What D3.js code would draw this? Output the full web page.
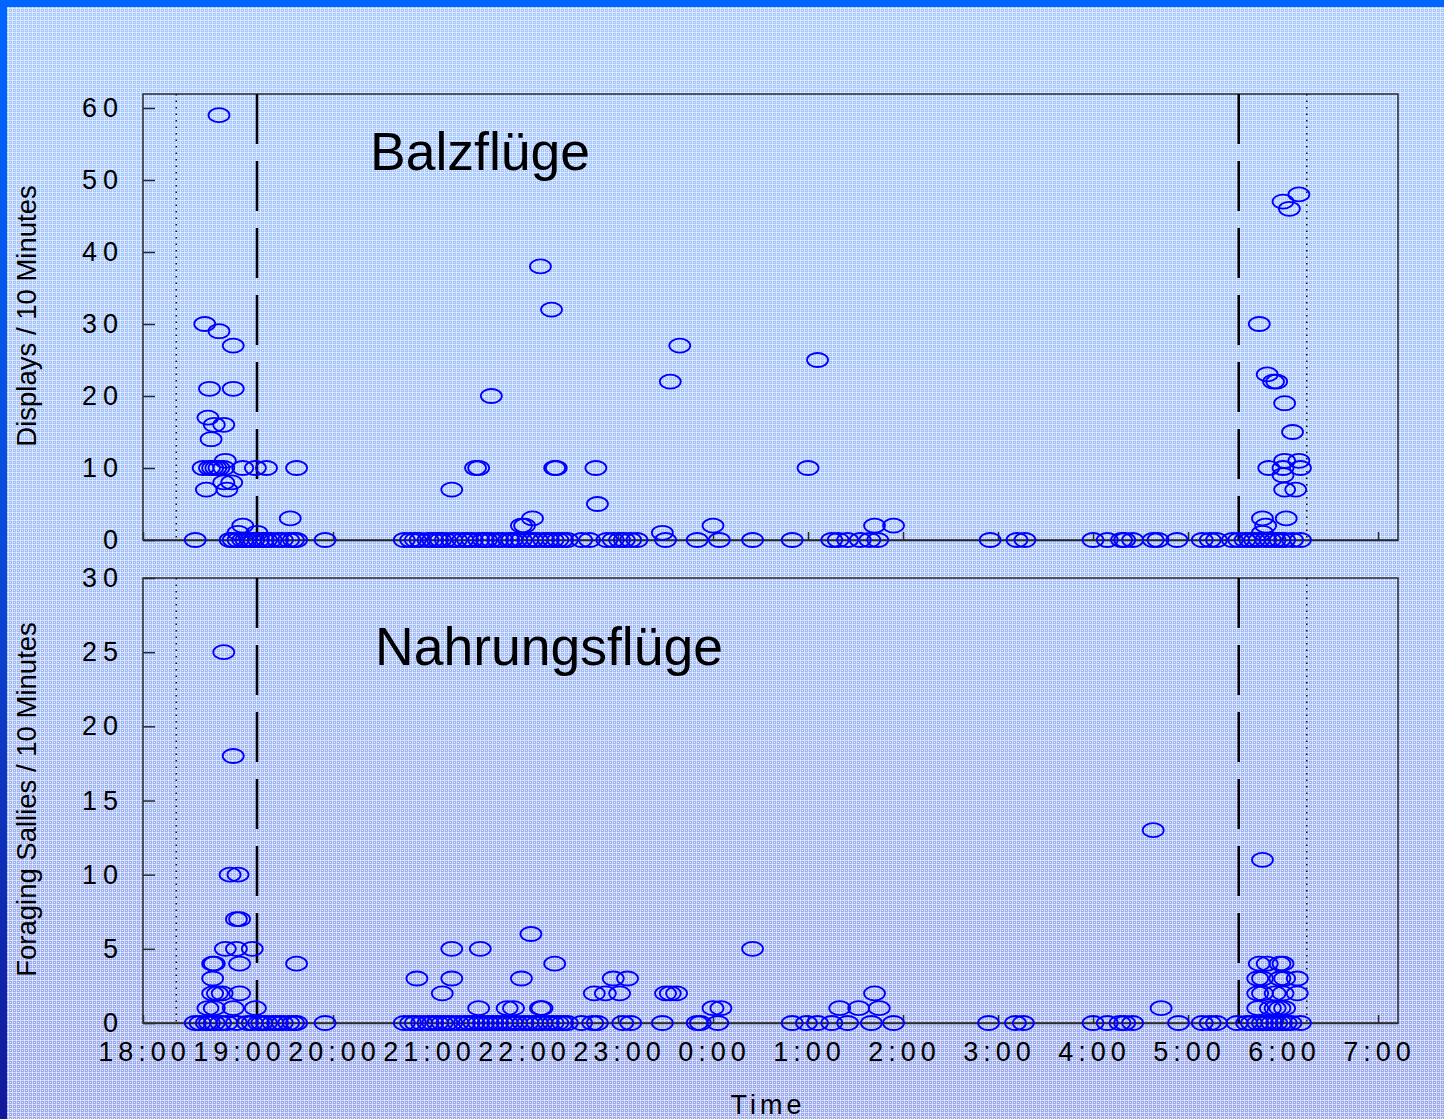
<!DOCTYPE html>
<html>
<head>
<meta charset="utf-8">
<script src="https://cdn.jsdelivr.net/npm/d3@7/dist/d3.min.js"></script>
<style>
  body { margin: 0; background: #c0d3f3; }
  svg { display: block; }
  text { font-family: "Liberation Sans", Arial, sans-serif; fill: #000; }
</style>
</head>
<body>
<svg id="chart"></svg>
<script>
// time = minutes after 18:00, value = count per 10 minutes
var tickLabels = ["18:00", "19:00", "20:00", "21:00", "22:00", "23:00", "0:00",
	"1:00", "2:00", "3:00", "4:00", "5:00", "6:00", "7:00"];

// Balzflüge (displays), non-zero counts [minute, value]
var displays = [
	[48, 59], [39, 30], [48, 29], [57, 27], [42, 21], [57, 21], [41, 17], [45, 16], [51, 16],
	[43, 14], [52, 11], [38, 10], [42, 10], [44, 10], [46, 10], [48, 10], [51, 10], [63, 10],
	[71, 10], [78, 10], [97, 10], [51, 8], [56, 8], [40, 7], [53, 7], [93, 3], [63, 2], [60, 1],
	[72, 1],
	[195, 7], [210, 10], [212, 10], [220, 20], [251, 38], [258, 32], [260, 10], [261, 10],
	[286, 10], [287, 5], [246, 3], [241, 2], [239, 2], [328, 1], [333, 22], [339, 27], [360, 2],
	[420, 10], [426, 25], [462, 2], [474, 2],
	[730, 48], [720, 47], [724, 46], [705, 30], [710, 23], [714, 22], [716, 22], [721, 19],
	[726, 15], [711, 10], [721, 11], [730, 11], [720, 10], [731, 10], [720, 9], [721, 7],
	[728, 7], [707, 3], [722, 3], [707, 1], [709, 2]
];
// minutes where no display was seen
var displayZeros = [33, 55, 57, 60, 63, 65, 68, 70, 73, 76, 78, 81, 85, 88, 92, 95, 97, 115,
	165, 169, 172, 175, 180, 183, 186, 188, 191, 195, 198, 202, 205, 208, 212, 215, 217, 220,
	224, 227, 231, 233, 236, 239, 243, 246, 249, 253, 256, 259, 262, 265, 268, 277, 282, 293,
	297, 301, 304, 308, 312, 330, 350, 364, 385, 410, 435, 439, 445, 453, 459, 464, 535, 552,
	557, 600, 609, 618, 620, 625, 638, 641, 653, 669, 674, 678, 688, 692, 696, 699, 702, 705,
	709, 712, 715, 718, 721, 726, 731];

// Nahrungsflüge (foraging sallies), non-zero counts [minute, value]
var sallies = [
	[51, 25], [57, 18], [55, 10], [60, 10], [59, 7], [61, 7], [52, 5], [59, 5], [69, 5],
	[44, 4], [45, 4], [61, 4], [97, 4], [44, 3], [44, 2], [47, 2], [50, 2], [61, 2], [41, 1],
	[45, 1], [57, 1], [71, 1],
	[173, 3], [195, 5], [213, 5], [195, 3], [189, 2], [212, 1], [230, 1], [234, 1], [245, 6],
	[239, 3], [251, 1], [252, 1], [260, 4], [285, 2], [292, 2], [301, 2], [297, 3], [306, 3],
	[330, 2], [333, 2], [337, 2], [360, 1], [365, 1], [385, 5], [440, 1], [452, 1], [465, 1],
	[462, 2], [638, 13], [643, 1],
	[707, 11], [705, 4], [710, 4], [718, 4], [720, 4], [704, 3], [707, 3], [718, 3], [721, 3],
	[729, 3], [704, 2], [707, 2], [715, 2], [720, 2], [729, 2], [704, 1], [712, 1], [715, 1],
	[718, 1], [721, 1]
];
var sallyZeros = [33, 36, 40, 42, 45, 49, 53, 59, 66, 69, 73, 75, 78, 82, 85, 88, 92, 95, 97,
	115, 165, 169, 172, 176, 180, 183, 186, 189, 192, 195, 199, 203, 206, 209, 212, 215, 218,
	221, 224, 227, 230, 233, 236, 240, 243, 246, 249, 252, 256, 259, 262, 265, 268, 277, 284,
	287, 303, 308, 328, 350, 352, 363, 410, 419, 426, 435, 445, 460, 474, 534, 551, 556, 600,
	609, 617, 620, 625, 654, 669, 674, 678, 691, 697, 700, 704, 707, 710, 713, 716, 719, 722,
	725, 731];

// sunset / sunrise (dotted) and end / start of twilight (dashed), minutes after 18:00
var sunLines = [21, 735];
var twilightLines = [72, 692];

var w = 1444;
var h = 1119;
var left = 143, right = 1398;

var svg = d3.select("#chart").attr("width", w).attr("height", h);
var defs = svg.append("defs");

var bg = defs.append("linearGradient").attr("id", "bg")
	.attr("x1", 0).attr("y1", 0).attr("x2", 0).attr("y2", 1);
bg.append("stop").attr("offset", "0%").attr("stop-color", "#a6c8ff");
bg.append("stop").attr("offset", "45%").attr("stop-color", "#a2c0fb");
bg.append("stop").attr("offset", "100%").attr("stop-color", "#9aa8ee");

var edge = defs.append("linearGradient").attr("id", "edge")
	.attr("x1", 0).attr("y1", 0).attr("x2", 0).attr("y2", 1);
edge.append("stop").attr("offset", "0%").attr("stop-color", "#0066ff");
edge.append("stop").attr("offset", "50%").attr("stop-color", "#0a48d8");
edge.append("stop").attr("offset", "100%").attr("stop-color", "#12189a");

// little checked texture
var pat = defs.append("pattern").attr("id", "grid")
	.attr("width", 4).attr("height", 4).attr("patternUnits", "userSpaceOnUse");
pat.append("rect").attr("width", 4).attr("height", 1).attr("fill", "#fff").attr("opacity", 0.55);
pat.append("rect").attr("width", 1).attr("height", 4).attr("fill", "#fff").attr("opacity", 0.55);
pat.append("rect").attr("x", 2).attr("y", 2).attr("width", 1).attr("height", 1).attr("fill", "#fff").attr("opacity", 0.8);

svg.append("rect").attr("width", w).attr("height", h).attr("fill", "url(#bg)");
svg.append("rect").attr("width", w).attr("height", h).attr("fill", "url(#grid)");
svg.append("rect").attr("width", w).attr("height", 7).attr("fill", "#0066ff");
svg.append("rect").attr("width", 7).attr("height", h).attr("fill", "url(#edge)");

var x = d3.scaleLinear().domain([0, 792.6]).range([left, right]);

function panel(opts) {
	var y = d3.scaleLinear().domain([0, opts.max]).range([opts.bottom, opts.top]);
	var g = svg.append("g");

	// frame
	g.append("rect")
		.attr("x", left).attr("y", opts.top)
		.attr("width", right - left).attr("height", opts.bottom - opts.top)
		.attr("fill", "none").attr("stroke", "#2a2a2a").attr("stroke-width", 1.5);

	// y axis, ticks point inwards
	var ya = g.append("g").attr("transform", "translate(" + left + ",0)")
		.call(d3.axisLeft(y).tickValues(opts.ticks).tickSizeInner(-12).tickSizeOuter(0).tickPadding(19));
	ya.select(".domain").remove();
	ya.selectAll("line").attr("stroke", "#2a2a2a").attr("stroke-width", 1.5);
	ya.selectAll("text").attr("font-size", 27).style("letter-spacing", "6px")
		.attr("font-family", "Liberation Sans, Arial, sans-serif").attr("fill", "#000");

	// x axis (labels only on the lower panel)
	var xa = g.append("g").attr("transform", "translate(0," + opts.bottom + ")")
		.call(d3.axisBottom(x).tickValues(d3.range(0, 781, 60)).tickSizeInner(-8).tickSizeOuter(0)
			.tickPadding(19)
			.tickFormat(function (d, i) { return opts.labels ? tickLabels[i] : ""; }));
	xa.select(".domain").attr("stroke", "#2a2a2a").attr("stroke-width", 1.5);
	xa.selectAll("line").attr("stroke", "#2a2a2a").attr("stroke-width", 1.5);
	xa.selectAll("text").attr("font-size", 27).style("letter-spacing", "5px").attr("dx", 1)
		.attr("font-family", "Liberation Sans, Arial, sans-serif").attr("fill", "#000");

	// reference lines
	g.selectAll(".sun").data(sunLines).enter().append("line")
		.attr("x1", d => x(d)).attr("x2", d => x(d))
		.attr("y1", opts.top).attr("y2", opts.bottom)
		.attr("stroke", "#111").attr("stroke-width", 1.5).attr("stroke-dasharray", "1.5,5");
	g.selectAll(".twi").data(twilightLines).enter().append("line")
		.attr("x1", d => x(d)).attr("x2", d => x(d))
		.attr("y1", opts.top).attr("y2", opts.bottom)
		.attr("stroke", "#000").attr("stroke-width", 2.5).attr("stroke-dasharray", "50,17");

	// points
	var pts = opts.zeros.map(d => [d, 0]).concat(opts.data);
	g.selectAll(".pt").data(pts).enter().append("ellipse")
		.attr("cx", d => x(d[0])).attr("cy", d => y(d[1]))
		.attr("rx", 10.5).attr("ry", 7)
		.attr("fill", "none").attr("stroke", "#0000ff").attr("stroke-width", 1.8);

	g.append("text").attr("x", opts.titleX).attr("y", opts.titleY)
		.attr("font-size", 53.5).text(opts.title);

	g.append("text")
		.attr("transform", "translate(36," + ((opts.top + opts.bottom) / 2 - 1) + ") rotate(-90)")
		.attr("text-anchor", "middle").attr("font-size", 27.5).text(opts.ylabel);
}

panel({
	top: 94, bottom: 540, max: 61.94, ticks: [0, 10, 20, 30, 40, 50, 60],
	data: displays, zeros: displayZeros, labels: false,
	title: "Balzflüge", titleX: 370, titleY: 170, ylabel: "Displays / 10 Minutes"
});
panel({
	top: 578, bottom: 1023, max: 30, ticks: [0, 5, 10, 15, 20, 25, 30],
	data: sallies, zeros: sallyZeros, labels: true,
	title: "Nahrungsflüge", titleX: 375, titleY: 665, ylabel: "Foraging Sallies / 10 Minutes"
});

svg.append("text").attr("x", 768).attr("y", 1114).attr("text-anchor", "middle")
	.attr("font-size", 27).style("letter-spacing", "4px").text("Time");
</script>
</body>
</html>
